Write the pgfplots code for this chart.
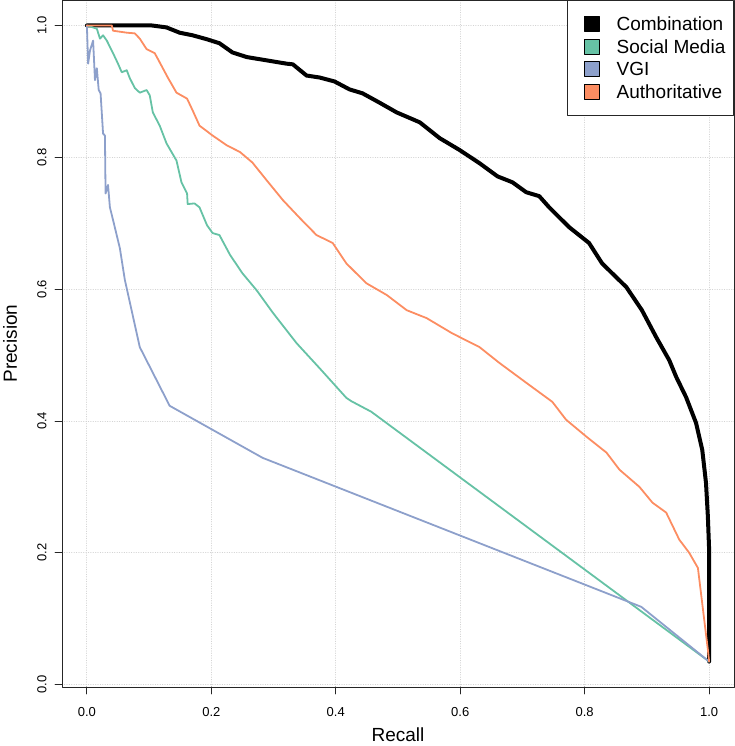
\documentclass[border=0pt]{standalone}
\usepackage{fontspec}
\setmainfont{Liberation Sans}
\usepackage{pgfplots}
\pgfplotsset{compat=1.18}
\definecolor{cSM}{HTML}{66C2A5}
\definecolor{cVGI}{HTML}{8DA0CB}
\definecolor{cAuth}{HTML}{FC8D62}
\definecolor{gridc}{HTML}{D3D3D3}
\begin{document}
\begin{tikzpicture}
\begin{axis}[
  at={(62bp,59bp)}, anchor=south west,
  scale only axis, width=672bp, height=687bp,
  xmin=-0.04, xmax=1.04, ymin=-0.0036, ymax=1.0386,
  axis line style={line width=0.8bp, black!85},
  xtick={0,0.2,0.4,0.6,0.8,1}, xticklabels={0.0,0.2,0.4,0.6,0.8,1.0},
  ytick={0,0.2,0.4,0.6,0.8,1}, yticklabels={0.0,0.2,0.4,0.6,0.8,1.0},
  tick align=outside, xtick pos=bottom, ytick pos=left,
  major tick length=7bp,
  tick style={line width=0.8bp, black!85},
  grid=major, major grid style={dotted, gridc, line width=0.8bp},
  ticklabel style={font=\fontsize{13bp}{15bp}\selectfont},
  yticklabel style={rotate=90, anchor=south},
  xticklabel shift=10bp, yticklabel shift=5bp,
  xlabel={Recall}, ylabel={Precision},
  every axis x label/.style={at={(axis description cs:0.5,-0.0699)}, anchor=center, font=\fontsize{19bp}{22bp}\selectfont},
  every axis y label/.style={at={(axis description cs:-0.0774,0.5)}, rotate=90, anchor=center, font=\fontsize{19bp}{22bp}\selectfont},
  legend cell align=left,
  legend style={at={(1,1)}, anchor=north east, draw=black!85, line width=0.8bp, fill=white,
    font=\fontsize{19bp}{22bp}\selectfont, inner xsep=17bp, inner ysep=15.6bp, row sep=7bp, column sep=17bp,
    nodes={inner sep=0bp, text height=14.3bp, text depth=0.7bp}},
  line join=round, line cap=round,
]
\addplot[black, line width=4bp, legend image code/.code={\draw[fill=black,draw=black,line width=0.6bp] (0bp,-7.5bp) rectangle (15bp,7.5bp);}] coordinates {
(0,1.0) (0.104,1.0) (0.128,0.997) (0.149,0.989) (0.170,0.985) (0.193,0.979) (0.213,0.973)
(0.234,0.959) (0.257,0.952) (0.289,0.947) (0.321,0.942) (0.331,0.941) (0.353,0.924)
(0.374,0.921) (0.398,0.915) (0.422,0.903) (0.443,0.897) (0.470,0.883) (0.498,0.868)
(0.535,0.853) (0.567,0.829) (0.599,0.811) (0.631,0.791) (0.660,0.771) (0.684,0.762)
(0.706,0.747) (0.727,0.741) (0.743,0.724) (0.775,0.694) (0.807,0.670) (0.828,0.639)
(0.867,0.603) (0.892,0.568) (0.915,0.527) (0.936,0.492) (0.947,0.467) (0.963,0.436)
(0.979,0.397) (0.989,0.356) (0.995,0.306) (0.998,0.255) (1.0,0.205) (1.0,0.035)
};
\addlegendentry{\makebox[100bp][l]{Combination}}
\addplot[cSM, line width=1.8bp, legend image code/.code={\draw[fill=cSM,draw=black,line width=0.6bp] (0bp,-7.5bp) rectangle (15bp,7.5bp);}] coordinates {
(0,1.0) (0.016,0.995) (0.021,0.980) (0.026,0.985) (0.032,0.977) (0.042,0.958) (0.050,0.942)
(0.056,0.929) (0.064,0.932) (0.069,0.920) (0.077,0.905) (0.085,0.898) (0.096,0.902)
(0.101,0.894) (0.106,0.868) (0.117,0.848) (0.128,0.821) (0.144,0.795) (0.152,0.762)
(0.161,0.745) (0.162,0.729) (0.173,0.730) (0.181,0.724) (0.193,0.697) (0.202,0.685)
(0.213,0.682) (0.230,0.652) (0.250,0.624) (0.273,0.598) (0.299,0.564) (0.337,0.518)
(0.374,0.480) (0.417,0.435) (0.425,0.430) (0.457,0.414) (1.0,0.035)
};
\addlegendentry{\makebox[100bp][l]{Social Media}}
\addplot[cVGI, line width=1.8bp, legend image code/.code={\draw[fill=cVGI,draw=black,line width=0.6bp] (0bp,-7.5bp) rectangle (15bp,7.5bp);}] coordinates {
(0,1.0) (0.002,0.942) (0.005,0.962) (0.010,0.977) (0.013,0.917) (0.016,0.935) (0.019,0.902)
(0.022,0.897) (0.026,0.836) (0.029,0.833) (0.030,0.745) (0.034,0.758) (0.037,0.724)
(0.042,0.705) (0.053,0.662) (0.061,0.614) (0.085,0.512) (0.133,0.423) (0.2825,0.344)
(0.891,0.118) (1.0,0.035)
};
\addlegendentry{\makebox[100bp][l]{VGI}}
\addplot[cAuth, line width=1.8bp, legend image code/.code={\draw[fill=cAuth,draw=black,line width=0.6bp] (0bp,-7.5bp) rectangle (15bp,7.5bp);}] coordinates {
(0,1.0) (0.040,1.0) (0.042,0.992) (0.064,0.989) (0.077,0.988) (0.085,0.980) (0.096,0.964)
(0.109,0.958) (0.117,0.944) (0.130,0.921) (0.144,0.898) (0.161,0.889) (0.170,0.871)
(0.181,0.848) (0.202,0.833) (0.225,0.818) (0.246,0.808) (0.266,0.792) (0.289,0.765)
(0.315,0.735) (0.342,0.708) (0.369,0.682) (0.395,0.670) (0.417,0.639) (0.449,0.609)
(0.482,0.591) (0.514,0.568) (0.546,0.556) (0.587,0.533) (0.631,0.512) (0.663,0.488)
(0.706,0.458) (0.748,0.429) (0.770,0.402) (0.803,0.376) (0.835,0.352) (0.856,0.326)
(0.888,0.300) (0.909,0.276) (0.931,0.261) (0.952,0.220) (0.968,0.200) (0.982,0.177)
(0.998,0.053) (1.0,0.035)
};
\addlegendentry{\makebox[100bp][l]{Authoritative}}
\end{axis}
\pgfresetboundingbox
\path (0bp,0bp) rectangle (735bp,746bp);
\end{tikzpicture}
\end{document}
